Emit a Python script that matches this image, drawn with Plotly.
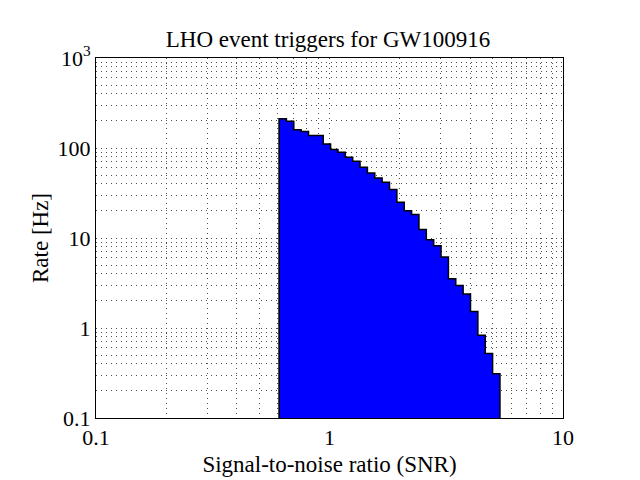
#!/usr/bin/python3
import numpy as np
import plotly.graph_objects as go

# SNR histogram bins (log spaced) and the trigger rate in each bin
snr_low = 0.608
snr_high = 5.37
n_bins = 30
rate_hz = [211, 198, 160, 153, 138, 138, 111, 96, 89.6, 78.8,
           71.1, 61, 52.8, 46.5, 41.6, 34.5, 24.9, 20.1, 18.2, 12.4,
           9.57, 8.2, 6.14, 3.52, 2.97, 2.38, 1.53, 0.83, 0.52, 0.31]

x_ticks = [0.1, 1, 10]
x_tick_labels = ['0.1', '1', '10']
y_ticks = [0.1, 1, 10, 100, 1000]
y_tick_labels = ['0.1', '1', '10', '100', '10<sup>3</sup>']

font_family = 'Liberation Serif'
grid_color = '#505050'
grid_dash = '1px,4px'


def minor_values(lo, hi):
    vals = []
    for d in range(lo, hi):
        for m in range(2, 10):
            vals.append(m * 10.0 ** d)
    return vals


def plot_triggers():
    edges = np.logspace(np.log10(snr_low), np.log10(snr_high), n_bins + 1)
    base = 0.01

    # closed stepped outline of the histogram
    xs = [edges[0]]
    ys = [base]
    for i, r in enumerate(rate_hz):
        xs += [edges[i], edges[i + 1]]
        ys += [r, r]
    xs += [edges[-1], edges[0]]
    ys += [base, base]

    fig = go.Figure()
    fig.add_trace(go.Scatter(
        x=xs,
        y=ys,
        mode='lines',
        fill='toself',
        fillcolor='#0000ff',
        line={'color': 'black', 'width': 1.5},
        showlegend=False,
        hoverinfo='skip'
    ))

    axis_common = {
        'type': 'log',
        'automargin': False,
        'layer': 'above traces',
        'showline': True,
        'linecolor': 'black',
        'linewidth': 1,
        'mirror': True,
        'ticks': '',
        'showgrid': True,
        'gridcolor': grid_color,
        'griddash': grid_dash,
        'gridwidth': 0.7,
        'zeroline': False,
        'tickfont': {'size': 22, 'family': font_family, 'color': 'black'},
    }
    minor_grid = {'showgrid': True, 'gridcolor': grid_color, 'griddash': grid_dash,
                  'gridwidth': 0.7, 'ticks': ''}

    # page body has an 8px margin, so the margins are shifted to compensate
    fig.update_layout(
        width=640,
        height=480,
        paper_bgcolor='white',
        plot_bgcolor='white',
        margin={'l': 88, 'r': 85, 't': 50, 'b': 70},
        title={'text': 'LHO event triggers for GW100916',
               'font': {'size': 23, 'family': font_family, 'color': 'black'},
               'x': 0.5, 'xanchor': 'center', 'y': 0.935, 'yanchor': 'middle'},
        xaxis=dict(axis_common,
                   range=[-1, 1],
                   tickvals=x_ticks,
                   ticktext=x_tick_labels,
                   minor=dict(minor_grid, tickvals=minor_values(-1, 1)),
                   title={'text': 'Signal-to-noise ratio (SNR)', 'standoff': 6,
                          'font': {'size': 23, 'family': font_family, 'color': 'black'}}),
        yaxis=dict(axis_common,
                   range=[-1, 3],
                   tickvals=y_ticks,
                   ticktext=y_tick_labels,
                   minor=dict(minor_grid, tickvals=minor_values(-1, 3)),
                   title={'text': 'Rate [Hz]', 'standoff': 2,
                          'font': {'size': 23, 'family': font_family, 'color': 'black'}}),
    )

    fig.write_html('out.html')


if __name__ == '__main__':
    plot_triggers()
